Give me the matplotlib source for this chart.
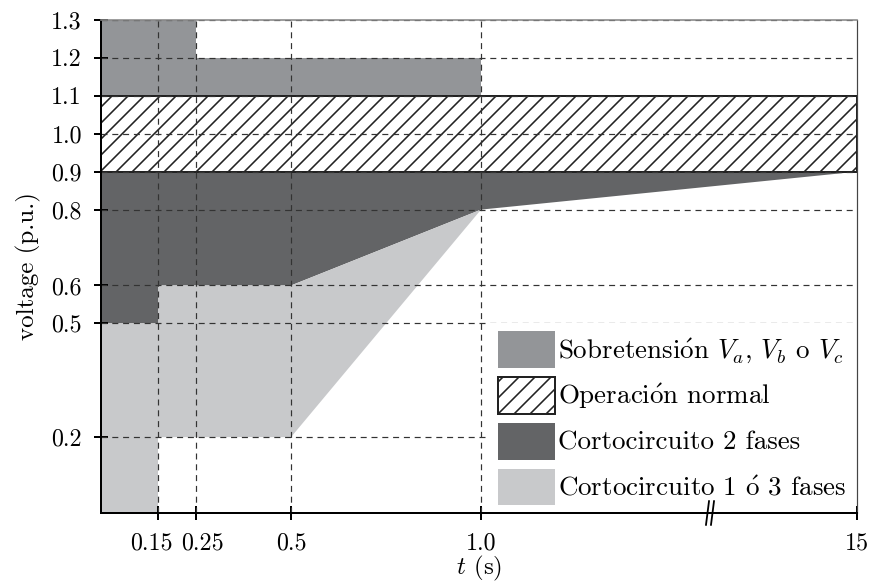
import numpy as np
import matplotlib
matplotlib.use("Agg")
import matplotlib.pyplot as plt
import matplotlib.transforms as mtransforms
from matplotlib.patches import Polygon, Patch

plt.rcParams['font.family'] = ['cmr10', 'DejaVu Serif']
plt.rcParams['mathtext.fontset'] = 'cm'
plt.rcParams['axes.unicode_minus'] = False
plt.rcParams['axes.formatter.use_mathtext'] = True
plt.rcParams['hatch.linewidth'] = 0.8

# time break: linear up to 1 s, compressed from 1 s to 15 s
T_BREAK = 1.0
T_END = 15.0
COMPRESS = 0.9895 / 14.0

def fwd(t):
    t = np.asarray(t, dtype=float)
    return np.where(t <= T_BREAK, t, T_BREAK + (t - T_BREAK) * COMPRESS)

def inv(u):
    u = np.asarray(u, dtype=float)
    return np.where(u <= T_BREAK, u, T_BREAK + (u - T_BREAK) / COMPRESS)

# regions (t in s, voltage in p.u.)
over_t = [0, 0.25, 0.25, 1.0, 1.0, 0]
over_v = [1.3, 1.3, 1.2, 1.2, 1.1, 1.1]

normal_t = [0, 15, 15, 0]
normal_v = [0.9, 0.9, 1.1, 1.1]

two_t = [0, 15, 1.0, 0.5, 0.15, 0.15, 0]
two_v = [0.9, 0.9, 0.8, 0.6, 0.6, 0.5, 0.5]

one_t = [0, 0.15, 0.15, 0.5, 1.0, 0.5, 0.15, 0.15, 0]
one_v = [0, 0, 0.2, 0.2, 0.8, 0.6, 0.6, 0.5, 0.5]

xticks = [0.15, 0.25, 0.5, 1.0, 15]
xlabels = ['0.15', '0.25', '0.5', '1.0', '15']
yticks = [0.2, 0.5, 0.6, 0.8, 0.9, 1.0, 1.1, 1.2, 1.3]
ylabels = ['0.2', '0.5', '0.6', '0.8', '0.9', '1.0', '1.1', '1.2', '1.3']

labels = [r'Sobretensi$\acute{\mathrm{o}}$n $V_a$, $V_b$ o $V_c$',
          r'Operaci$\acute{\mathrm{o}}$n normal',
          'Cortocircuito 2 fases',
          r'Cortocircuito 1 $\acute{\mathrm{o}}$ 3 fases']

c_over = '#939598'
c_two = '#636466'
c_one = '#c8c9cb'

fig = plt.figure(figsize=(870 / 144, 583 / 144), dpi=144)
ax = fig.add_axes([101 / 870, 1 - 513 / 583, (857 - 101) / 870, (513 - 20) / 583])
ax.set_xscale('function', functions=(fwd, inv))
ax.set_xlim(0, T_END)
ax.set_ylim(0, 1.3)

ax.add_patch(Polygon(np.column_stack([over_t, over_v]), closed=True,
                     facecolor=c_over, edgecolor='none', zorder=1))
ax.add_patch(Polygon(np.column_stack([two_t, two_v]), closed=True,
                     facecolor=c_two, edgecolor='none', zorder=1))
ax.add_patch(Polygon(np.column_stack([one_t, one_v]), closed=True,
                     facecolor=c_one, edgecolor='none', zorder=1))
ax.add_patch(Polygon(np.column_stack([normal_t, normal_v]), closed=True,
                     facecolor='white', edgecolor='#222222', hatch='///',
                     linewidth=1.0, zorder=2))

for v in yticks:
    ax.axhline(v, color='#333333', lw=0.6, ls=(0, (5, 4)), zorder=3)
for t in xticks[:-1]:
    ax.axvline(t, color='#333333', lw=0.6, ls=(0, (5, 4)), zorder=3)

ax.set_xticks(xticks)
ax.set_xticklabels(xlabels)
ax.set_yticks(yticks)
ax.set_yticklabels(ylabels)
ax.minorticks_off()
ax.tick_params(direction='inout', length=7, width=1.0, labelsize=12, pad=6)

# nudge the two crowded labels apart
tl = ax.get_xticklabels()
for lab, dx in ((tl[0], -3.5), (tl[1], 3.5)):
    lab.set_transform(lab.get_transform() +
                      mtransforms.ScaledTranslation(dx / 72, 0, fig.dpi_scale_trans))

ax.spines['left'].set_linewidth(1.0)
ax.spines['bottom'].set_linewidth(1.0)
ax.spines['top'].set_color('#888888')
ax.spines['top'].set_linewidth(0.8)
ax.spines['right'].set_color('#444444')
ax.spines['right'].set_linewidth(0.6)
for s in ax.spines.values():
    s.set_zorder(6)

ax.set_xlabel('$t$ (s)', fontsize=12.5, labelpad=0)
ax.set_ylabel('voltage (p.u.)', fontsize=12.5, labelpad=5)

# axis break mark
for dx in (-2.5, 2.5):
    ax.plot([(710 + dx - 101) / 756 - 0.002, (710 + dx - 101) / 756 + 0.002],
            [-0.024, 0.024], transform=ax.transAxes, color='black',
            lw=0.9, clip_on=False, zorder=7)

handles = [
    Patch(facecolor=c_over, edgecolor='none', label=labels[0]),
    Patch(facecolor='white', edgecolor='#222222', hatch='///', linewidth=1.0, label=labels[1]),
    Patch(facecolor=c_two, edgecolor='none', label=labels[2]),
    Patch(facecolor=c_one, edgecolor='none', label=labels[3]),
]
leg = ax.legend(handles=handles, loc='lower left', bbox_to_anchor=(0.5144, -0.0012),
                frameon=True, fancybox=False, facecolor='white', edgecolor='none',
                framealpha=1, fontsize=13.5, handlelength=2.11, handleheight=1.73,
                labelspacing=0.33, handletextpad=0.12, borderaxespad=0, borderpad=0.3)
leg.set_zorder(5)

fig.savefig('out.png', dpi=144)
